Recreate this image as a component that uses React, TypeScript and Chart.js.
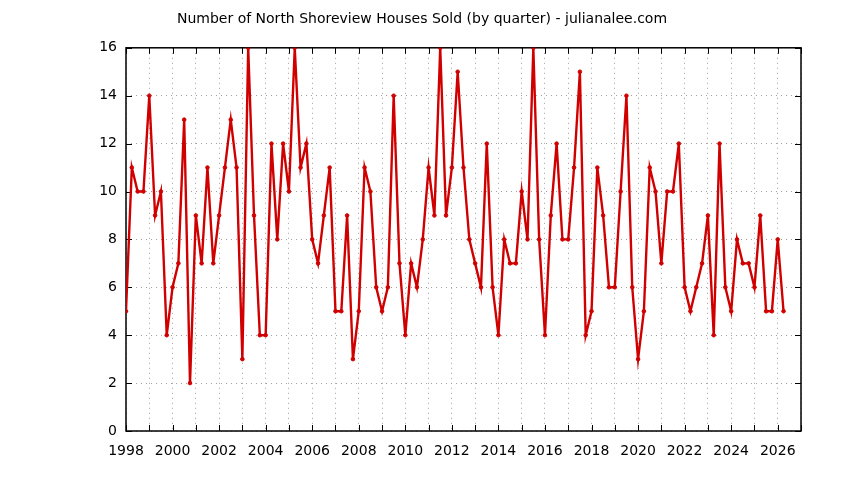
import React, { useEffect, useRef } from "react";
import { Chart, registerables } from "chart.js";

Chart.register(...registerables);

const TITLE = "Number of North Shoreview Houses Sold (by quarter) - julianalee.com";
const START_YEAR = 1998;
const X_MIN = 1998;
const X_MAX = 2027;
const Y_MIN = 0;
const Y_MAX = 16;
const Y_STEP = 2;

const sold1998_2004: number[] = [
  5, 11, 10, 10,
  14, 9, 10, 4,
  6, 7, 13, 2,
  9, 7, 11, 7,
  9, 11, 13, 11,
  3, 16, 9, 4,
  4, 12, 8, 12,
];
const sold2005_2011: number[] = [
  10, 16, 11, 12,
  8, 7, 9, 11,
  5, 5, 9, 3,
  5, 11, 10, 6,
  5, 6, 14, 7,
  4, 7, 6, 8,
  11, 9, 16, 9,
];
const sold2012_2018: number[] = [
  11, 15, 11, 8,
  7, 6, 12, 6,
  4, 8, 7, 7,
  10, 8, 16, 8,
  4, 9, 12, 8,
  8, 11, 15, 4,
  5, 11, 9, 6,
];
const sold2019_2026: number[] = [
  6, 10, 14, 6,
  3, 5, 11, 10,
  7, 10, 10, 12,
  6, 5, 6, 7,
  9, 4, 12, 6,
  5, 8, 7, 7,
  6, 9, 5, 5,
  8, 5,
];

const soldValues: number[] = [
  ...sold1998_2004,
  ...sold2005_2011,
  ...sold2012_2018,
  ...sold2019_2026,
];

const FONT = "'DejaVu Sans', sans-serif";

const frameTicks = {
  id: "frameTicks",
  beforeDatasetsDraw(chart: any) {
    const { ctx, chartArea } = chart;
    const { left, right, top, bottom } = chartArea;
    const xs = chart.scales.x;
    const ys = chart.scales.y;
    const len = 6;
    ctx.save();
    ctx.strokeStyle = "#000";
    ctx.lineWidth = 1;
    ctx.beginPath();
    xs.ticks.forEach((t: any) => {
      const px = Math.round(xs.getPixelForValue(t.value)) + 0.5;
      ctx.moveTo(px, bottom);
      ctx.lineTo(px, bottom - len);
      ctx.moveTo(px, top);
      ctx.lineTo(px, top + len);
    });
    ys.ticks.forEach((t: any) => {
      const py = Math.round(ys.getPixelForValue(t.value)) + 0.5;
      ctx.moveTo(left, py);
      ctx.lineTo(left + len, py);
      ctx.moveTo(right, py);
      ctx.lineTo(right - len, py);
    });
    ctx.stroke();
    ctx.lineWidth = 1.5;
    ctx.strokeRect(left, top, right - left, bottom - top);
    ctx.restore();
  },
};

export default function App() {
  const ref = useRef<HTMLCanvasElement | null>(null);

  useEffect(() => {
    document.body.style.margin = "0";
    const canvas = ref.current;
    if (!canvas) return;
    const points = soldValues.map((v, i) => ({ x: START_YEAR + i * 0.25, y: v }));
    const chart = new Chart(canvas, {
      type: "line",
      data: {
        datasets: [
          {
            data: points,
            borderColor: "#d00000",
            backgroundColor: "#d00000",
            borderWidth: 2.4,
            pointRadius: 1.8,
            pointHoverRadius: 2,
            pointBorderWidth: 1,
            tension: 0,
            fill: false,
          },
        ],
      },
      options: {
        animation: false,
        responsive: false,
        devicePixelRatio: 1,
        layout: { padding: 0 },
        plugins: {
          legend: { display: false },
          tooltip: { enabled: false },
          title: {
            display: true,
            text: TITLE,
            color: "#000",
            font: { family: FONT, size: 14, weight: "normal" },
            padding: { top: 11, bottom: 20 },
          },
        },
        scales: {
          x: {
            type: "linear",
            min: X_MIN,
            max: X_MAX,
            afterFit: (s: any) => {
              s.height = 49;
            },
            ticks: {
              stepSize: 1,
              autoSkip: false,
              maxRotation: 0,
              padding: 12,
              color: "#000",
              font: { family: FONT, size: 14 },
              callback: (v: any) => (Number(v) % 2 === 0 ? String(v) : ""),
            },
            grid: {
              drawTicks: false,
              color: "#a0a0a0",
              lineWidth: 1,
            },
            border: { display: false, dash: [1, 4] },
          },
          y: {
            min: Y_MIN,
            max: Y_MAX,
            afterFit: (s: any) => {
              s.width = 126;
            },
            ticks: {
              stepSize: Y_STEP,
              padding: 9,
              color: "#000",
              font: { family: FONT, size: 14 },
            },
            grid: {
              drawTicks: false,
              color: "#a0a0a0",
              lineWidth: 1,
            },
            border: { display: false, dash: [1, 4] },
          },
          yRight: {
            type: "linear",
            position: "right",
            min: Y_MIN,
            max: Y_MAX,
            afterFit: (s: any) => {
              s.width = 43;
            },
            ticks: { display: false },
            grid: { display: false, drawTicks: false },
            border: { display: false },
          },
        },
      },
      plugins: [frameTicks],
    });
    return () => chart.destroy();
  }, []);

  return (
    <div style={{ position: "absolute", left: 0, top: 0, width: 844, height: 480, background: "#fff" }}>
      <canvas ref={ref} width={844} height={480} style={{ width: 844, height: 480 }} />
    </div>
  );
}
